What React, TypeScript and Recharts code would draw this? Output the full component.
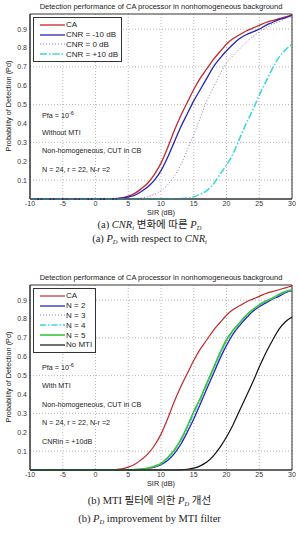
import { LineChart, Line, XAxis, YAxis, CartesianGrid, ReferenceArea } from 'recharts'

const sir = [-10, -9, -8, -7, -6, -5, -4, -3, -2, -1, 0, 1, 2, 3, 4, 5, 6, 7, 8, 9, 10, 11, 12, 13, 14, 15, 16, 17, 18, 19, 20, 21, 22, 23, 24, 25, 26, 27, 28, 29, 30]
const xTicks = [-10, -5, 0, 5, 10, 15, 20, 25, 30]
const yTicks = [0.1, 0.2, 0.3, 0.4, 0.5, 0.6, 0.7, 0.8, 0.9]

// chart (a)
const ca = [0, 0, 0, 0, 0, 0, 0, 0, 0, 0, 0, 0, 0, 0.002, 0.006, 0.015, 0.03, 0.055, 0.085, 0.13, 0.19, 0.27, 0.36, 0.44, 0.51, 0.58, 0.64, 0.69, 0.74, 0.78, 0.82, 0.85, 0.87, 0.89, 0.905, 0.92, 0.935, 0.945, 0.955, 0.965, 0.975]
const cnrM10 = [0, 0, 0, 0, 0, 0, 0, 0, 0, 0, 0, 0, 0, 0.001, 0.004, 0.01, 0.02, 0.04, 0.065, 0.1, 0.15, 0.22, 0.3, 0.38, 0.45, 0.52, 0.58, 0.64, 0.7, 0.745, 0.785, 0.82, 0.85, 0.87, 0.885, 0.9, 0.92, 0.935, 0.95, 0.96, 0.972]
const cnr0 = [0, 0, 0, 0, 0, 0, 0, 0, 0, 0, 0, 0, 0, 0, 0, 0, 0, 0.005, 0.012, 0.025, 0.045, 0.075, 0.12, 0.18, 0.26, 0.34, 0.43, 0.52, 0.59, 0.66, 0.72, 0.76, 0.795, 0.83, 0.86, 0.885, 0.905, 0.925, 0.94, 0.955, 0.965]
const cnrP10 = [0, 0, 0, 0, 0, 0, 0, 0, 0, 0, 0, 0, 0, 0, 0, 0, 0, 0, 0, 0, 0, 0, 0, 0.002, 0.005, 0.012, 0.025, 0.045, 0.08, 0.13, 0.18, 0.24, 0.32, 0.4, 0.47, 0.55, 0.62, 0.69, 0.75, 0.79, 0.82]

// chart (b)
const n2 = [0, 0, 0, 0, 0, 0, 0, 0, 0, 0, 0, 0, 0, 0, 0, 0, 0.001, 0.003, 0.007, 0.015, 0.028, 0.05, 0.085, 0.135, 0.2, 0.27, 0.35, 0.43, 0.51, 0.59, 0.66, 0.72, 0.765, 0.805, 0.84, 0.865, 0.885, 0.905, 0.92, 0.94, 0.95]
const n3 = [0, 0, 0, 0, 0, 0, 0, 0, 0, 0, 0, 0, 0, 0, 0, 0, 0.001, 0.004, 0.008, 0.017, 0.031, 0.057, 0.095, 0.148, 0.215, 0.29, 0.365, 0.445, 0.525, 0.605, 0.675, 0.73, 0.772, 0.812, 0.845, 0.87, 0.89, 0.907, 0.925, 0.942, 0.952]
const n4 = [0, 0, 0, 0, 0, 0, 0, 0, 0, 0, 0, 0, 0, 0, 0, 0, 0.002, 0.005, 0.009, 0.019, 0.033, 0.062, 0.1, 0.155, 0.225, 0.3, 0.375, 0.455, 0.535, 0.615, 0.685, 0.737, 0.777, 0.817, 0.848, 0.873, 0.893, 0.909, 0.928, 0.944, 0.954]
const n5 = [0, 0, 0, 0, 0, 0, 0, 0, 0, 0, 0, 0, 0, 0, 0, 0, 0.002, 0.005, 0.01, 0.02, 0.035, 0.065, 0.105, 0.16, 0.23, 0.31, 0.38, 0.46, 0.54, 0.62, 0.69, 0.74, 0.78, 0.82, 0.85, 0.875, 0.895, 0.91, 0.93, 0.945, 0.955]
const noMti = [0, 0, 0, 0, 0, 0, 0, 0, 0, 0, 0, 0, 0, 0, 0, 0, 0, 0, 0, 0, 0, 0, 0, 0.001, 0.004, 0.01, 0.022, 0.042, 0.075, 0.12, 0.175, 0.24, 0.315, 0.39, 0.465, 0.545, 0.62, 0.685, 0.745, 0.785, 0.81]

const FONT = '"Liberation Sans", Arial, sans-serif'
const TITLE = 'Detection performance of CA processor in nonhomogeneous background'

interface Series {
  key: string
  name: string
  values: number[]
  color: string
  width: number
  dash?: string
}

const seriesA: Series[] = [
  { key: 'ca', name: 'CA', values: ca, color: '#c0282c', width: 1.3 },
  { key: 'm10', name: 'CNR = -10 dB', values: cnrM10, color: '#2424b8', width: 1.3 },
  { key: 'z0', name: 'CNR = 0 dB', values: cnr0, color: '#a070c0', width: 1, dash: '1 2' },
  { key: 'p10', name: 'CNR = +10 dB', values: cnrP10, color: '#3fd6d6', width: 1.6, dash: '7 2 1.5 2' },
]

const seriesB: Series[] = [
  { key: 'ca', name: 'CA', values: ca, color: '#c0282c', width: 1.2 },
  { key: 'n2', name: 'N = 2', values: n2, color: '#2424c8', width: 1.3 },
  { key: 'n3', name: 'N = 3', values: n3, color: '#9a7ac8', width: 1, dash: '1 2' },
  { key: 'n4', name: 'N = 4', values: n4, color: '#3fd6d6', width: 1.3, dash: '6 2 1.5 2' },
  { key: 'n5', name: 'N = 5', values: n5, color: '#3cc43c', width: 1.6 },
  { key: 'nomti', name: 'No MTI', values: noMti, color: '#111111', width: 1.2 },
]

function buildRows(series: Series[]) {
  return sir.map((x, i) => {
    const row: Record<string, number> = { sir: x }
    series.forEach((s) => { row[s.key] = s.values[i] })
    return row
  })
}

function LegendBox({ series, top, left }: { series: Series[]; top: number; left: number }) {
  return (
    <div style={{ position: 'absolute', top, left, background: '#fff', border: '1px solid #333', padding: '2px 3px 2px 6px', fontFamily: FONT, fontSize: 8, color: '#222' }}>
      {series.map((s) => (
        <div key={s.key} style={{ display: 'flex', alignItems: 'center', height: 9.8 }}>
          <svg width={25} height={6} style={{ marginRight: 1 }}>
            <line x1={0} y1={3} x2={25} y2={3} stroke={s.color} strokeWidth={s.width} strokeDasharray={s.dash} />
          </svg>
          <span>{s.name}</span>
        </div>
      ))}
    </div>
  )
}

function PdChart({ top, series, notes, noteTops }: { top: number; series: Series[]; notes: React.ReactNode[]; noteTops: number[] }) {
  const rows = buildRows(series)
  return (
    <div style={{ position: 'absolute', top, left: 0, width: 299, height: 219 }}>
      <div style={{ position: 'absolute', top: 2, left: 30, width: 262, textAlign: 'center', fontFamily: FONT, fontSize: 7.5, color: '#222', whiteSpace: 'nowrap' }}>{TITLE}</div>
      <div style={{ position: 'absolute', left: 8, top: 106, transform: 'translate(-50%, -50%) rotate(-90deg)', whiteSpace: 'nowrap', fontFamily: FONT, fontSize: 7.3, color: '#222' }}>
        Probability of Detection (Pd)
      </div>
      <LineChart width={299} height={219} data={rows} margin={{ top: 14, right: 7, bottom: 0, left: 0 }} style={{ fontFamily: FONT }}>
        <CartesianGrid stroke="#9a9a9a" strokeWidth={0.7} strokeDasharray="1 2" horizontalValues={yTicks} verticalValues={xTicks} />
        <XAxis
          dataKey="sir"
          type="number"
          domain={[-10, 30]}
          ticks={xTicks}
          height={20}
          tickSize={2}
          tickMargin={0}
          tickLine={false}
          axisLine={{ stroke: '#333' }}
          tick={{ fontSize: 7, fill: '#333' }}
          label={{ value: 'SIR (dB)', position: 'insideBottom', offset: 4, fontSize: 7.3, fill: '#222' }}
        />
        <YAxis
          type="number"
          domain={[0, 0.98]}
          ticks={yTicks}
          width={30}
          tickSize={2}
          tickMargin={1}
          tickLine={false}
          axisLine={{ stroke: '#333' }}
          tick={{ fontSize: 7, fill: '#333' }}
        />
        <ReferenceArea x1={-10} x2={30} y1={0} y2={0.98} fill="none" stroke="#333" strokeWidth={1} />
        {series.map((s) => (
          <Line
            key={s.key}
            dataKey={s.key}
            type="monotone"
            stroke={s.color}
            strokeWidth={s.width}
            strokeDasharray={s.dash}
            dot={false}
            isAnimationActive={false}
          />
        ))}
      </LineChart>
      {notes.map((n, i) => (
        <div key={i} style={{ position: 'absolute', left: 42, top: noteTops[i] - 5, fontFamily: FONT, fontSize: 7.2, color: '#222', whiteSpace: 'nowrap', lineHeight: '10px' }}>{n}</div>
      ))}
    </div>
  )
}

const pfa = <span>Pfa = 10<sup style={{ fontSize: 5.5, lineHeight: 0 }}>-6</sup></span>
const subStyle: React.CSSProperties = { fontSize: 6.5, lineHeight: 0, verticalAlign: '-1.5px' }

const captionStyle: React.CSSProperties = {
  position: 'absolute', left: 0, width: 299, textAlign: 'center', fontFamily: '"Liberation Serif", "Times New Roman", "Noto Sans CJK KR", serif',
  fontSize: 10.5, color: '#222', whiteSpace: 'nowrap', lineHeight: '11px',
}

export default function App() {
  return (
    <div style={{ position: 'absolute', top: 0, left: 0, width: 299, height: 536, background: '#fff', overflow: 'hidden' }}>
      <PdChart
        top={0}
        series={seriesA}
        notes={[pfa, 'Without MTI', 'Non-homogeneous, CUT in CB', 'N = 24, r = 22, N-r =2']}
        noteTops={[116, 133, 151, 170]}
      />
      <LegendBox series={seriesA} top={17} left={33} />
      <div style={{ ...captionStyle, top: 219 }}>(a) <i>CNR<sub style={subStyle}>i</sub></i> 변화에 따른 <i>P<sub style={subStyle}>D</sub></i></div>
      <div style={{ ...captionStyle, top: 233 }}>(a) <i>P<sub style={subStyle}>D</sub></i> with respect to <i>CNR<sub style={subStyle}>i</sub></i></div>

      <PdChart
        top={271}
        series={seriesB}
        notes={[pfa, 'With MTI', 'Non-homogeneous, CUT in CB', 'N = 24, r = 22, N-r =2', 'CNRin = +10dB']}
        noteTops={[97, 115, 134, 152, 171]}
      />
      <LegendBox series={seriesB} top={288} left={33} />
      <div style={{ ...captionStyle, top: 495 }}>(b) MTI 필터에 의한 <i>P<sub style={subStyle}>D</sub></i> 개선</div>
      <div style={{ ...captionStyle, top: 513 }}>(b) <i>P<sub style={subStyle}>D</sub></i> improvement by MTI filter</div>
    </div>
  )
}
